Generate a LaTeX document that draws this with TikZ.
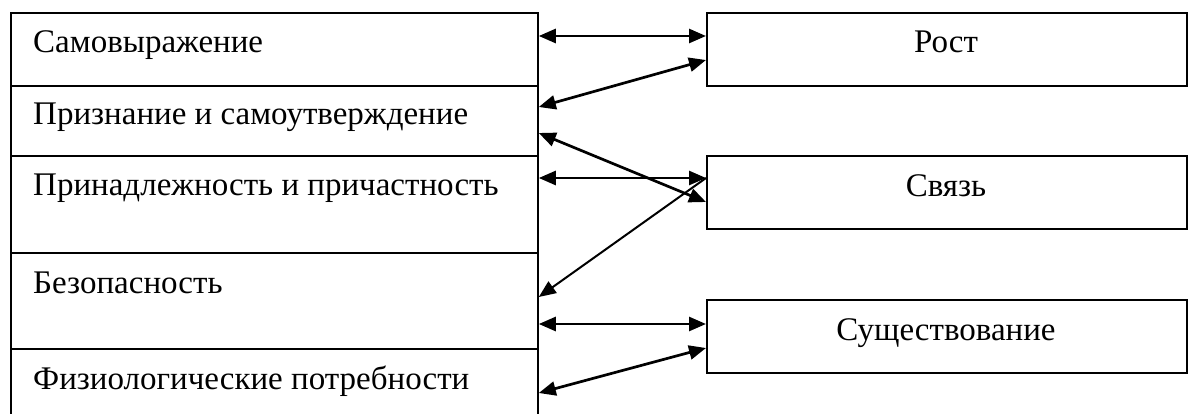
\documentclass[tikz,border=0pt]{standalone}
\usepackage{fontspec}
\setmainfont{Liberation Serif}
\usetikzlibrary{arrows.meta}
\begin{document}
\begin{tikzpicture}[x=1pt,y=-1pt,
  rowbox/.style={draw,line width=1.8pt,anchor=north west,inner sep=0pt,minimum width=527pt},
  rbox/.style={draw,line width=1.8pt,anchor=north west,inner sep=0pt,minimum width=480pt,minimum height=73pt},
  ltext/.style={anchor=base west,inner sep=0pt,font=\fontsize{33}{38}\selectfont},
  ctext/.style={anchor=base,inner sep=0pt,font=\fontsize{33}{38}\selectfont},
  dbl/.style={{Triangle[length=17pt,width=14pt]}-{Triangle[length=17pt,width=14pt]},line width=2.7pt},
  sgl/.style={-{Triangle[length=17pt,width=14pt]},line width=2pt}]
\useasboundingbox (0,0) rectangle (1194,414);
% left stack
\node[rowbox,minimum height=73pt] (r1) at (10,12) {};
\node[rowbox,minimum height=70pt] (r2) at (10,85) {};
\node[rowbox,minimum height=97pt] (r3) at (10,155) {};
\node[rowbox,minimum height=96pt] (r4) at (10,252) {};
\node[rowbox,minimum height=90pt] (r5) at (10,348) {};
\node[ltext] (t1) at (33,53) {Самовыражение};
\node[ltext] (t2) at (33,125) {Признание и самоутверждение};
\node[ltext] (t3) at (33,196) {Принадлежность и причастность};
\node[ltext] (t4) at (33,293) {Безопасность};
\node[ltext] (t5) at (33,389) {Физиологические потребности};
% right boxes
\node[rbox] (b1) at (706,12) {};
\node[rbox] (b2) at (706,155) {};
\node[rbox] (b3) at (706,299) {};
\node[ctext] (u1) at (946,53) {Рост};
\node[ctext] (u2) at (946,197) {Связь};
\node[ctext] (u3) at (946,340) {Существование};
% connectors
\draw[dbl] ([yshift=-24pt]r1.north east) -- ([yshift=-24pt]b1.north west);
\draw[dbl] ([yshift=-22pt]r2.north east) -- ([yshift=-48pt]b1.north west);
\draw[dbl] ([yshift=-48pt]r2.north east) -- ([yshift=-47pt]b2.north west);
\draw[dbl] ([yshift=-23pt]r3.north east) -- ([yshift=-23pt]b2.north west);
\draw[sgl] ([yshift=-23pt]b2.north west) -- ([yshift=-45pt]r4.north east);
\draw[dbl] ([yshift=-72pt]r4.north east) -- ([yshift=-25pt]b3.north west);
\draw[dbl] ([yshift=-45pt]r5.north east) -- ([yshift=-49pt]b3.north west);
\end{tikzpicture}
\end{document}
